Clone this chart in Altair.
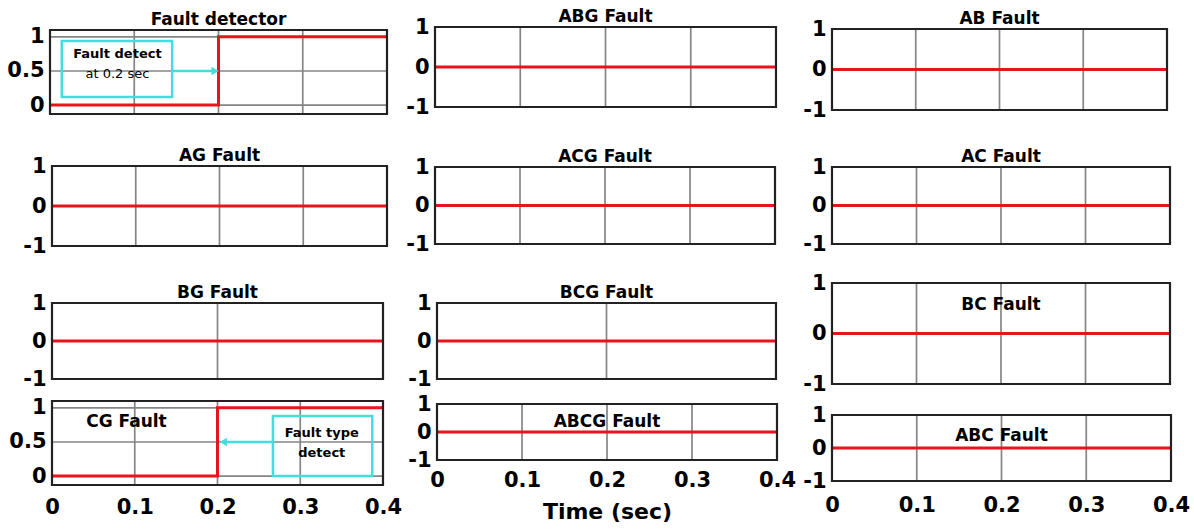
import altair as alt
import pandas as pd

# ---------------- data ----------------
PANEL_TITLES = ["Fault detector", "ABG Fault", "AB Fault",
                "AG Fault", "ACG Fault", "AC Fault",
                "BG Fault", "BCG Fault", "BC Fault",
                "CG Fault", "ABCG Fault", "ABC Fault"]
SIGNAL_KIND = ["step", "flat", "flat", "flat", "flat", "flat",
               "flat", "flat", "flat", "step", "flat", "flat"]
STEP_TIME = [0.0, 0.2, 0.2, 0.4]
STEP_VALUE = [0, 0, 1, 1]
FLAT_TIME = [0.0, 0.4]
FLAT_VALUE = [0, 0]

X_TICKS = [0, 0.1, 0.2, 0.3, 0.4]
Y_TICKS_STEP = [0, 0.5, 1]
Y_TICKS_FLAT = [-1, 0, 1]
Y_DOMAIN_STEP = [-0.13, 1.1]
Y_DOMAIN_FLAT = [-1, 1]
X_DOMAIN = [0, 0.4]

GRID_X_FULL = [0.1, 0.2, 0.3]
GRID_X_MID = [0.2]
GRID_Y_STEP = [0, 0.5, 1]
GRID_KIND = ["full", "full", "full", "full", "full", "full",
             "mid", "mid", "full", "full", "full", "full"]

# titles drawn inside the panel (panel index -> data position)
INSIDE_TITLE = {8: (0.2, 0.47), 9: (0.09, 0.72), 10: (0.2, 0.18), 11: (0.2, 0.21)}

# annotation 1 (Fault detector panel)
ANN1_BOX_X = [0.014, 0.145]
ANN1_BOX_Y = [0.12, 0.94]
ANN1_ARROW_X = [0.145, 0.196]
ANN1_ARROW_Y = 0.5
ANN1_TEXT = ["Fault detect", "at 0.2 sec"]
ANN1_TEXT_X = 0.08
ANN1_TEXT_Y = [0.69, 0.40]
# annotation 2 (CG panel)
ANN2_BOX_X = [0.267, 0.387]
ANN2_BOX_Y = [0.0, 0.88]
ANN2_ARROW_X = [0.267, 0.207]
ANN2_ARROW_Y = 0.5
ANN2_TEXT = ["Fault type", "detect"]
ANN2_TEXT_X = 0.326
ANN2_TEXT_Y = [0.57, 0.28]

X_AXIS_TITLE = "Time (sec)"

# ---------------- layout / style ----------------
W, H = 1194, 529
# x0, x1, y_top, y_bottom (pixels of each panel's plot frame)
LAYOUT = [
    (50, 387, 30, 114), (435, 776, 27, 107), (832, 1167, 29, 110),
    (52, 387, 166, 246), (435, 775, 167, 244), (832, 1170, 167, 244),
    (52, 383, 303, 379), (437, 776, 303, 379), (832, 1170, 283, 384),
    (52, 383, 401, 485), (437, 777, 404, 460), (832, 1171, 415, 481),
]
X_AXIS_PAD = {9: 11, 10: 9, 11: 13}

FONT = "DejaVu Sans"
RED = "#e8141c"
CYAN = "#41dede"
GRID = "#858585"
FRAME = "#222222"
TICK_FS = 21

layers = []


def scales(i, ydom):
    x0, x1, yt, yb = LAYOUT[i]
    sx = alt.Scale(domain=X_DOMAIN, range=[x0, x1], nice=False, zero=False)
    sy = alt.Scale(domain=ydom, range=[yb, yt], nice=False, zero=False)
    return sx, sy


for i, title in enumerate(PANEL_TITLES):
    step = SIGNAL_KIND[i] == "step"
    ydom = Y_DOMAIN_STEP if step else Y_DOMAIN_FLAT
    yt_vals = Y_TICKS_STEP if step else Y_TICKS_FLAT
    sx, sy = scales(i, ydom)
    x0, x1, ytop, ybot = LAYOUT[i]
    lo, hi = ydom

    # vertical grid lines
    gx = GRID_X_FULL if GRID_KIND[i] == "full" else GRID_X_MID
    layers.append(
        alt.Chart(pd.DataFrame({"g": gx, "lo": [lo] * len(gx), "hi": [hi] * len(gx)}))
        .mark_rule(color=GRID, strokeWidth=1.7)
        .encode(x=alt.X("g:Q", scale=sx, axis=None),
                y=alt.Y("lo:Q", scale=sy, axis=None), y2="hi:Q")
    )
    # horizontal grid lines (step panels)
    if step:
        layers.append(
            alt.Chart(pd.DataFrame({"g": GRID_Y_STEP, "a": [X_DOMAIN[0]] * 3, "b": [X_DOMAIN[1]] * 3}))
            .mark_rule(color=GRID, strokeWidth=1.7)
            .encode(y=alt.Y("g:Q", scale=sy, axis=None),
                    x=alt.X("a:Q", scale=sx, axis=None), x2="b:Q")
        )

    # signal line with axes
    t = STEP_TIME if step else FLAT_TIME
    v = STEP_VALUE if step else FLAT_VALUE
    y_axis = alt.Axis(orient="left", offset=-x0, values=yt_vals, grid=False, ticks=False,
                      domain=False, labelFont=FONT, labelFontSize=TICK_FS, labelFontWeight="bold",
                      labelColor="black", labelPadding=6, labelOverlap=False,
                      labelExpr="'' + datum.value", title=None)
    if i in X_AXIS_PAD:
        x_kwargs = dict(orient="bottom", offset=-(H - ybot), values=X_TICKS, grid=False,
                        ticks=False, domain=False, labelFont=FONT, labelFontSize=TICK_FS,
                        labelFontWeight="bold", labelColor="black",
                        labelPadding=X_AXIS_PAD[i], labelOverlap=False, labelFlush=False,
                        labelExpr="'' + datum.value")
        if i == 10:
            x_kwargs.update(title=X_AXIS_TITLE, titleFont=FONT, titleFontSize=22,
                            titleFontWeight="bold", titleColor="black", titlePadding=11)
        else:
            x_kwargs.update(title=None)
        x_axis = alt.Axis(**x_kwargs)
    else:
        x_axis = None
    layers.append(
        alt.Chart(pd.DataFrame({"t": t, "v": v}))
        .mark_line(color=RED, strokeWidth=3, interpolate="linear")
        .encode(x=alt.X("t:Q", scale=sx, axis=x_axis),
                y=alt.Y("v:Q", scale=sy, axis=y_axis))
    )

    # frame
    layers.append(
        alt.Chart(pd.DataFrame({"a": [X_DOMAIN[0]], "b": [X_DOMAIN[1]], "lo": [lo], "hi": [hi]}))
        .mark_rect(fillOpacity=0, stroke=FRAME, strokeWidth=2.2)
        .encode(x=alt.X("a:Q", scale=sx, axis=None), x2="b:Q",
                y=alt.Y("lo:Q", scale=sy, axis=None), y2="hi:Q")
    )

    # title
    if i in INSIDE_TITLE:
        tx, ty = INSIDE_TITLE[i]
        dy = 0
    else:
        tx, ty = 0.2, hi
        dy = -5
    layers.append(
        alt.Chart(pd.DataFrame({"x": [tx], "y": [ty], "s": [title]}))
        .mark_text(font=FONT, fontSize=17, fontWeight="bold", color="black",
                   baseline="alphabetic", align="center", dy=dy)
        .encode(x=alt.X("x:Q", scale=sx, axis=None),
                y=alt.Y("y:Q", scale=sy, axis=None), text="s:N")
    )

    # annotations
    if i in (0, 9):
        if i == 0:
            bx, by, ax, ay, tx_, txt, tyy, shape = (ANN1_BOX_X, ANN1_BOX_Y, ANN1_ARROW_X,
                                                    ANN1_ARROW_Y, ANN1_TEXT_X, ANN1_TEXT,
                                                    ANN1_TEXT_Y, "triangle-right")
            weights = ["bold", "normal"]
        else:
            bx, by, ax, ay, tx_, txt, tyy, shape = (ANN2_BOX_X, ANN2_BOX_Y, ANN2_ARROW_X,
                                                    ANN2_ARROW_Y, ANN2_TEXT_X, ANN2_TEXT,
                                                    ANN2_TEXT_Y, "triangle-left")
            weights = ["bold", "bold"]
        layers.append(
            alt.Chart(pd.DataFrame({"a": [bx[0]], "b": [bx[1]], "lo": [by[0]], "hi": [by[1]]}))
            .mark_rect(fillOpacity=0, stroke=CYAN, strokeWidth=2.5)
            .encode(x=alt.X("a:Q", scale=sx, axis=None), x2="b:Q",
                    y=alt.Y("lo:Q", scale=sy, axis=None), y2="hi:Q")
        )
        layers.append(
            alt.Chart(pd.DataFrame({"a": [ax[0]], "b": [ax[1]], "y": [ay]}))
            .mark_rule(color=CYAN, strokeWidth=2.5)
            .encode(x=alt.X("a:Q", scale=sx, axis=None), x2="b:Q",
                    y=alt.Y("y:Q", scale=sy, axis=None))
        )
        layers.append(
            alt.Chart(pd.DataFrame({"x": [ax[1]], "y": [ay]}))
            .mark_point(shape=shape, filled=True, color=CYAN, size=70, opacity=1)
            .encode(x=alt.X("x:Q", scale=sx, axis=None),
                    y=alt.Y("y:Q", scale=sy, axis=None))
        )
        for k in range(2):
            layers.append(
                alt.Chart(pd.DataFrame({"x": [tx_], "y": [tyy[k]], "s": [txt[k]]}))
                .mark_text(font=FONT, fontSize=13, fontWeight=weights[k], color="black",
                           baseline="alphabetic", align="center")
                .encode(x=alt.X("x:Q", scale=sx, axis=None),
                        y=alt.Y("y:Q", scale=sy, axis=None), text="s:N")
            )

chart = (
    alt.layer(*layers)
    .resolve_scale(x="independent", y="independent")
    .resolve_axis(x="independent", y="independent")
    .properties(width=W, height=H, padding=0,
                autosize=alt.AutoSizeParams(type="none"), background="white")
    .configure_view(stroke=None)
)

chart.save("out.html", embed_options={"renderer": "svg", "actions": False})
